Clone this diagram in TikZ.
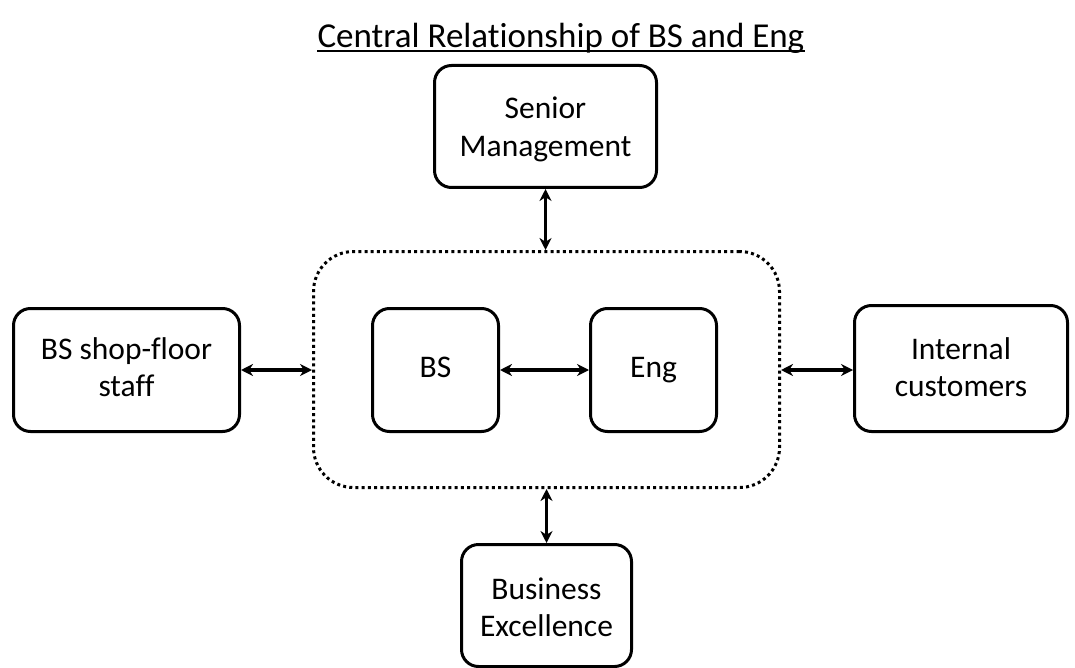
\documentclass[tikz,border=0pt]{standalone}
\usepackage{fontspec}
\setmainfont{Carlito}[Ligatures={NoCommon,NoRequired,NoContextual}]
\usetikzlibrary{arrows.meta}
\begin{document}
\begin{tikzpicture}[x=1pt,y=-1pt,
  box/.style={draw=black, line width=3pt, rounded corners=17pt, align=center,
    font=\fontsize{31.5}{37.5}\selectfont, inner sep=0pt, anchor=north west},
  single/.style={text height=22pt, text depth=7pt},
  % last baseline sits #1/2 below the box centre
  double/.style={text height=#1, text depth=0pt},
  group/.style={draw=black, line width=3pt, dash pattern=on 3pt off 3.2pt,
    rounded corners=40pt, inner sep=0pt, anchor=north west},
  link/.style={line width=3.5pt, {Stealth[length=12pt,width=12pt]}-{Stealth[length=12pt,width=12pt]}}]
  \useasboundingbox (0,0) rectangle (1075,668);

  % title
  \node[font=\fontsize{35}{40}\selectfont, inner sep=0pt, anchor=base] (title) at (561,48)
    {Central Relationship of BS and Eng};
  \draw[line width=2pt] ([yshift=-3pt]title.base west) -- ([yshift=-3pt]title.base east);

  % central grouping
  \node[group, minimum width=466pt, minimum height=236pt] (grp) at (312,250) {};

  % boxes
  \node[box, double=60pt, minimum width=222pt, minimum height=122pt] (sm)  at (433,64)  {Senior\\Management};
  \node[box, double=53pt, minimum width=226pt, minimum height=123pt] (bsf) at (12,307)  {BS shop-floor\\staff};
  \node[box, single, minimum width=126pt, minimum height=123pt] (bs)  at (371,307) {BS};
  \node[box, single, minimum width=126pt, minimum height=123pt] (eng) at (589,307) {Eng};
  \node[box, double=56pt, minimum width=213pt, minimum height=126pt] (ic)  at (853,304) {Internal\\customers};
  \node[box, double=62pt, minimum width=170pt, minimum height=122pt] (be)  at (460,543) {Business\\Excellence};

  % connectors
  \draw[link] (sm.south) -- (sm.south |- grp.north);
  \draw[link] (be.north |- grp.south) -- (be.north);
  \draw[link] (bsf.east |- bs) -- (grp.west |- bs);
  \draw[link] (bs.east) -- (eng.west);
  \draw[link] (grp.east |- bs) -- (ic.west |- bs);
\end{tikzpicture}
\end{document}
